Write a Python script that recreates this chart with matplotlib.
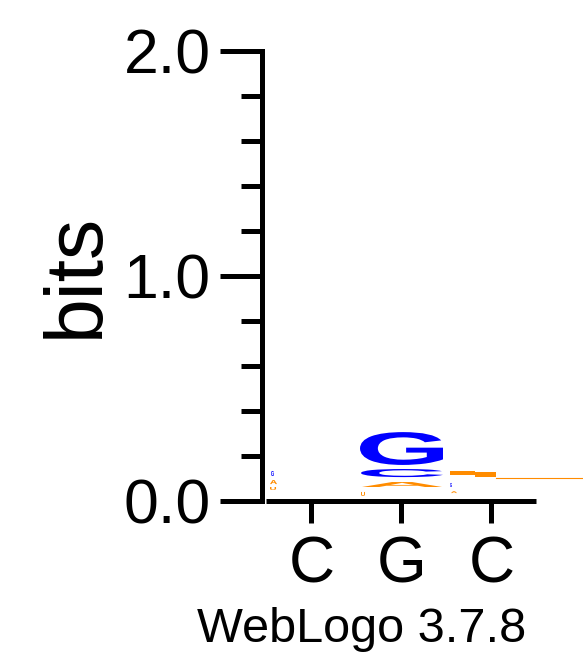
import matplotlib
matplotlib.use("Agg")
import matplotlib.pyplot as plt
from matplotlib.textpath import TextPath
from matplotlib.patches import PathPatch
from matplotlib.font_manager import FontProperties
from matplotlib.transforms import Affine2D

plt.rcParams['font.family'] = ['Liberation Sans', 'DejaVu Sans']

# sequence positions and their consensus labels
positions = [1, 2, 3]
consensus = ['C', 'G', 'C']

# stacked letters (bits for y, sequence units for x)
letter_char = ['U', 'A', 'G', 'U', 'A', 'C', 'G', 'A', 'G']
letter_bottom = [0.047, 0.073, 0.109, 0.020, 0.060, 0.104, 0.158, 0.033, 0.060]
letter_top = [0.060, 0.091, 0.131, 0.038, 0.082, 0.140, 0.304, 0.042, 0.078]
letter_x0 = [0.539, 0.539, 0.550, 1.550, 1.561, 1.550, 1.539, 2.550, 2.539]
letter_x1 = [0.606, 0.617, 0.583, 1.594, 2.450, 2.461, 2.461, 2.617, 2.561]

# top letter of position 3 is squashed into a solid orange bar
smear_x0 = [2.539, 2.820]
smear_x1 = [2.820, 3.050]
smear_bottom = [0.113, 0.104]
smear_top = [0.131, 0.127]

# stray orange trace running off to the right of position 3
trace_x = [3.05, 4.05]
trace_y = [0.102, 0.102]

y_major = [0.0, 1.0, 2.0]
y_major_labels = ['0.0', '1.0', '2.0']
y_minor = [0.2, 0.4, 0.6, 0.8, 1.2, 1.4, 1.6, 1.8]

colors = {'A': '#ff8c00', 'U': '#ff8c00', 'G': '#0000ff', 'C': '#0000ff'}

W, H = 583, 667
fig = plt.figure(figsize=(W / 100, H / 100), dpi=100)
ax = fig.add_axes([262 / W, (H - 500.5) / H, (537 - 262) / W, 450 / H])
ax.set_xlim(0.45, 3.5056)
ax.set_ylim(0, 2)

fp = FontProperties(family='Liberation Sans', weight='bold')


def draw_letter(ch, x0, x1, y0, y1, color):
    tp = TextPath((0, 0), ch, size=1, prop=fp)
    bb = tp.get_extents()
    tr = (Affine2D().translate(-bb.x0, -bb.y0)
          .scale((x1 - x0) / bb.width, (y1 - y0) / bb.height)
          .translate(x0, y0))
    ax.add_patch(PathPatch(tr.transform_path(tp), facecolor=color,
                           edgecolor='none', lw=0))


for ch, b, t, x0, x1 in zip(letter_char, letter_bottom, letter_top, letter_x0, letter_x1):
    draw_letter(ch, x0, x1, b, t, colors[ch])

for x0, x1, b, t in zip(smear_x0, smear_x1, smear_bottom, smear_top):
    ax.bar(x0, t - b, width=x1 - x0, bottom=b, align='edge',
           color='#ff8c00', lw=0)

ax.plot(trace_x, trace_y, color='#ff8c00', lw=0.8, clip_on=False)

for s in ['top', 'right', 'bottom']:
    ax.spines[s].set_visible(False)
ax.spines['left'].set_linewidth(3.6)
ax.hlines(0, 0.5, 3.5, color='black', lw=3.6, clip_on=False)

ax.set_xticks(positions)
ax.set_xticklabels(consensus)
ax.set_yticks(y_major)
ax.set_yticklabels(y_major_labels)
ax.set_yticks(y_minor, minor=True)
ax.tick_params(axis='y', which='major', length=30, width=3.6, pad=7, labelsize=45)
ax.tick_params(axis='y', which='minor', length=15, width=3.6)
ax.tick_params(axis='x', which='major', length=15.5, width=3.6, pad=10, labelsize=46)

ax.set_ylabel('bits', fontsize=58, labelpad=6)

fig.text(362 / W, (H - 630) / H, 'WebLogo 3.7.8', fontsize=35, ha='center', va='center')

fig.savefig('out.png', dpi=100)
